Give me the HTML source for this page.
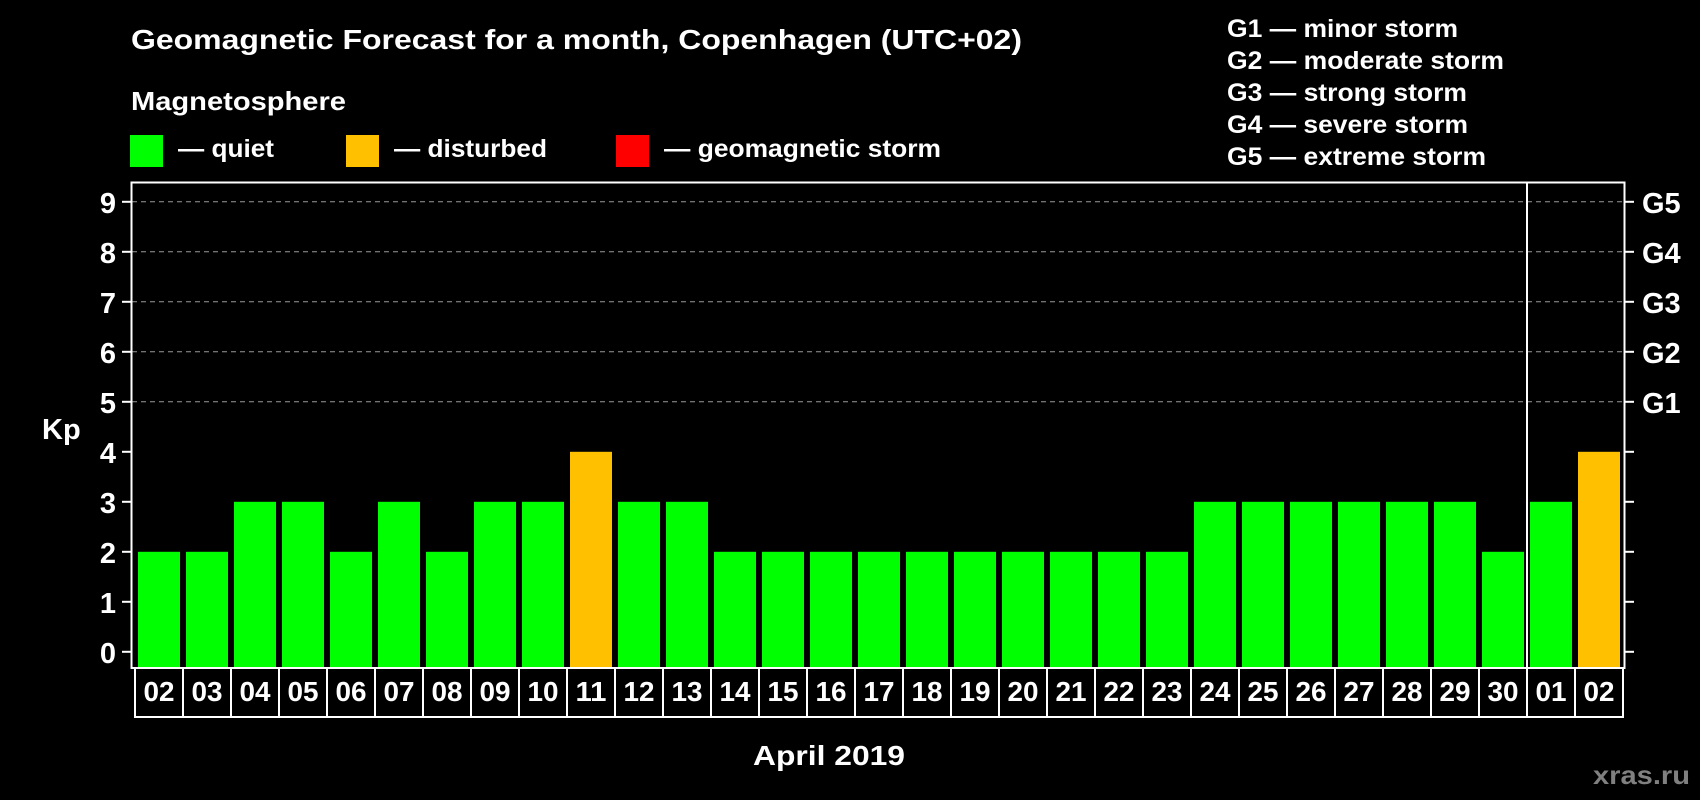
<!DOCTYPE html>
<html><head><meta charset="utf-8"><style>
html,body{margin:0;padding:0;background:#000;}
svg{display:block;}
text{font-family:"Liberation Sans",Arial,sans-serif;font-weight:bold;fill:#fff;}
</style></head><body>
<svg width="1700" height="800" viewBox="0 0 1700 800" xmlns="http://www.w3.org/2000/svg">
<rect width="1700" height="800" fill="#000"/>
<text x="131" y="49" font-size="28" textLength="891" lengthAdjust="spacingAndGlyphs">Geomagnetic Forecast for a month, Copenhagen (UTC+02)</text>
<text x="131" y="110" font-size="26" textLength="215" lengthAdjust="spacingAndGlyphs">Magnetosphere</text>
<rect x="130" y="135" width="33" height="32" fill="#00ff00"/>
<text x="178" y="157" font-size="25" textLength="96" lengthAdjust="spacingAndGlyphs">— quiet</text>
<rect x="346" y="135" width="33" height="32" fill="#ffc000"/>
<text x="394" y="157" font-size="25" textLength="153" lengthAdjust="spacingAndGlyphs">— disturbed</text>
<rect x="616" y="135" width="33" height="32" fill="#ff0000"/>
<text x="664" y="157" font-size="25" textLength="277" lengthAdjust="spacingAndGlyphs">— geomagnetic storm</text>
<g font-size="25">
<text x="1227" y="37" textLength="231" lengthAdjust="spacingAndGlyphs">G1 — minor storm</text>
<text x="1227" y="69" textLength="277" lengthAdjust="spacingAndGlyphs">G2 — moderate storm</text>
<text x="1227" y="101" textLength="240" lengthAdjust="spacingAndGlyphs">G3 — strong storm</text>
<text x="1227" y="133" textLength="241" lengthAdjust="spacingAndGlyphs">G4 — severe storm</text>
<text x="1227" y="165" textLength="259" lengthAdjust="spacingAndGlyphs">G5 — extreme storm</text>
</g>
<g id="grid" stroke="#999" stroke-width="1" stroke-dasharray="5,4">
<line x1="132" x2="1624" y1="401.8" y2="401.8"/>
<line x1="132" x2="1624" y1="351.8" y2="351.8"/>
<line x1="132" x2="1624" y1="301.8" y2="301.8"/>
<line x1="132" x2="1624" y1="251.8" y2="251.8"/>
<line x1="132" x2="1624" y1="201.8" y2="201.8"/>
</g>
<g id="bars"></g>
<rect x="131.5" y="182.5" width="1493" height="485.5" fill="none" stroke="#fff" stroke-width="2"/>
<line x1="1527" x2="1527" y1="182.5" y2="668" stroke="#fff" stroke-width="2"/>
<g id="ticks" stroke="#fff" stroke-width="2"></g>
<g id="ylab" font-size="29" text-anchor="end"></g>
<g id="glab" font-size="29"></g>
<text x="42" y="439" font-size="29">Kp</text>
<g id="dates" font-size="28" text-anchor="middle"></g>
<text x="829" y="765" font-size="28" text-anchor="middle" textLength="152" lengthAdjust="spacingAndGlyphs">April 2019</text>
<text x="1593" y="784" font-size="26" style="fill:#808080" textLength="97" lengthAdjust="spacingAndGlyphs">xras.ru</text>
</svg>
<script>
var NS="http://www.w3.org/2000/svg";
function el(p,t,a,txt){var e=document.createElementNS(NS,t);for(var k in a)e.setAttribute(k,a[k]);if(txt!=null)e.textContent=txt;document.getElementById(p).appendChild(e);}
var vals=[2,2,3,3,2,3,2,3,3,4,3,3,2,2,2,2,2,2,2,2,2,2,3,3,3,3,3,3,2,3,4];
var labs=["02","03","04","05","06","07","08","09","10","11","12","13","14","15","16","17","18","19","20","21","22","23","24","25","26","27","28","29","30","01","02"];
function y(v){return 651.8-50*v;}
for(var i=0;i<31;i++){
 var v=vals[i];
 el("bars","rect",{x:138+48*i,y:y(v),width:42,height:668-y(v),fill:v>=4?"#ffc000":"#00ff00"});
 el("dates","rect",{x:135+48*i,y:668,width:48,height:49,fill:"none",stroke:"#fff","stroke-width":2});
 el("dates","text",{x:159+48*i,y:701,textLength:31,lengthAdjust:"spacingAndGlyphs"},labs[i]);
}
for(var k=0;k<=9;k++){
 el("ticks","line",{x1:122,x2:131,y1:y(k),y2:y(k)});
 el("ticks","line",{x1:1625,x2:1634,y1:y(k),y2:y(k)});
 el("ylab","text",{x:116,y:y(k)+11},String(k));
 if(k>=5) el("glab","text",{x:1642,y:y(k)+11},"G"+(k-4));
}
</script>
</body></html>
